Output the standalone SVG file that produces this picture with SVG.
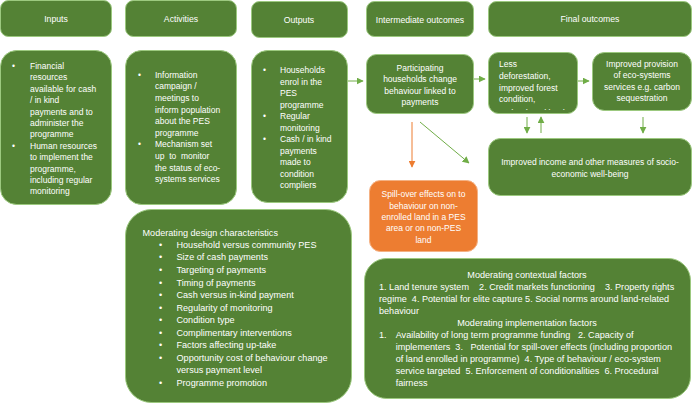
<svg xmlns="http://www.w3.org/2000/svg" width="692" height="405" viewBox="0 0 692 405">
<defs>
<marker id="ag" viewBox="0 0 10 10" refX="9" refY="5" markerWidth="7" markerHeight="7" markerUnits="userSpaceOnUse" orient="auto"><path d="M0,0 L10,5 L0,10 z" fill="#70AD47"/></marker>
<marker id="ao" viewBox="0 0 10 10" refX="9" refY="5" markerWidth="7" markerHeight="7" markerUnits="userSpaceOnUse" orient="auto"><path d="M0,0 L10,5 L0,10 z" fill="#ED7D31"/></marker>
<clipPath id="clipLess"><rect x="488" y="52" width="90" height="58"/></clipPath>
</defs>
<style>
.b{fill:#548235;stroke:#9cc97f;stroke-width:1}
.o{fill:#ED7D31;stroke:#f4b183;stroke-width:1}
text{font-family:"Liberation Sans",Arial,sans-serif;fill:#ffffff}
.h{font-size:8.7px;text-anchor:middle}
.t{font-size:8.5px}
.c{font-size:8.5px;text-anchor:middle}
.d{font-size:9.1px}
.dc{font-size:9.1px;text-anchor:middle}
.cn{stroke:#70AD47;stroke-width:1;fill:none;marker-end:url(#ag)}
</style>
<g id="h-inputs"><rect class="b" x="0.5" y="0.5" width="111" height="36" rx="8"/><text class="h" x="56" y="22">Inputs</text></g>
<g id="h-activities"><rect class="b" x="125.5" y="0.5" width="111" height="36" rx="8"/><text class="h" x="181" y="22">Activities</text></g>
<g id="h-outputs"><rect class="b" x="251.5" y="1.5" width="96" height="36" rx="8"/><text class="h" x="299" y="23">Outputs</text></g>
<g id="h-intermediate"><rect class="b" x="366.5" y="1.5" width="107" height="35" rx="8"/><text class="h" x="420" y="22.5">Intermediate outcomes</text></g>
<g id="h-final"><rect class="b" x="488.5" y="1.5" width="203" height="35" rx="8"/><text class="h" x="590" y="22">Final outcomes</text></g>

<g id="inputs"><rect class="b" x="0.5" y="50.5" width="111" height="154" rx="16"/>
<text class="t"><tspan x="12" y="69">•</tspan><tspan x="30" y="69">Financial</tspan><tspan x="30" y="80.4">resources</tspan><tspan x="30" y="91.8">available for cash</tspan><tspan x="30" y="103.2">/ in kind</tspan><tspan x="30" y="114.6">payments and to</tspan><tspan x="30" y="126">administer the</tspan><tspan x="30" y="137.4">programme</tspan><tspan x="12" y="148.8">•</tspan><tspan x="30" y="148.8">Human resources</tspan><tspan x="30" y="160.2">to implement the</tspan><tspan x="30" y="171.6">programme,</tspan><tspan x="30" y="183">including regular</tspan><tspan x="30" y="194.4">monitoring</tspan></text></g>

<g id="activities"><rect class="b" x="125.5" y="50.5" width="111" height="154" rx="16"/>
<text class="t"><tspan x="138" y="77.8">•</tspan><tspan x="155" y="77.8">Information</tspan><tspan x="155" y="89.4">campaign /</tspan><tspan x="155" y="101">meetings to</tspan><tspan x="155" y="112.6">inform population</tspan><tspan x="155" y="124.2">about the PES</tspan><tspan x="155" y="135.8">programme</tspan><tspan x="138" y="147.4">•</tspan><tspan x="155" y="147.4">Mechanism set</tspan><tspan x="155" y="159" xml:space="preserve">up  to  monitor</tspan><tspan x="155" y="170.6">the status of eco-</tspan><tspan x="155" y="182.2">systems services</tspan></text></g>

<g id="outputs"><rect class="b" x="251.5" y="50.5" width="96" height="152" rx="16"/>
<text class="t"><tspan x="263" y="73">•</tspan><tspan x="280" y="73">Households</tspan><tspan x="280" y="84.5">enrol in the</tspan><tspan x="280" y="96">PES</tspan><tspan x="280" y="107.5">programme</tspan><tspan x="263" y="119">•</tspan><tspan x="280" y="119">Regular</tspan><tspan x="280" y="130.5">monitoring</tspan><tspan x="263" y="142">•</tspan><tspan x="280" y="142">Cash / in kind</tspan><tspan x="280" y="153.5">payments</tspan><tspan x="280" y="165">made to</tspan><tspan x="280" y="176.5">condition</tspan><tspan x="280" y="188">compliers</tspan></text></g>

<g id="participating"><rect class="b" x="366.5" y="54.5" width="107" height="59" rx="10"/>
<text class="c"><tspan x="420" y="70.8">Participating</tspan><tspan x="420" y="82.3">households change</tspan><tspan x="420" y="93.8">behaviour linked to</tspan><tspan x="420" y="105">payments</tspan></text></g>

<g id="less-deforestation"><rect class="b" x="488.5" y="52.5" width="89" height="61" rx="10"/>
<text class="t" clip-path="url(#clipLess)"><tspan x="499" y="67.3">Less</tspan><tspan x="499" y="79">deforestation,</tspan><tspan x="499" y="90.5">improved forest</tspan><tspan x="499" y="101.7">condition,</tspan><tspan x="499" y="115.5">and reduced land-use change</tspan></text></g>

<g id="provision"><rect class="b" x="592.5" y="52.5" width="99" height="58" rx="12"/>
<text class="c"><tspan x="642" y="66.7">Improved provision</tspan><tspan x="642" y="78.3">of eco-systems</tspan><tspan x="642" y="90">services e.g. carbon</tspan><tspan x="642" y="101.3">sequestration</tspan></text></g>

<g id="income"><rect class="b" x="488.5" y="138.5" width="203" height="57" rx="12"/>
<text class="c"><tspan x="590" y="165.3">Improved income and other measures of socio-</tspan><tspan x="590" y="176.5">economic well-being</tspan></text></g>

<g id="spillover"><rect class="o" x="369.5" y="180.5" width="108" height="71" rx="11"/>
<text class="c"><tspan x="423.5" y="197.3">Spill-over effects on to</tspan><tspan x="423.5" y="208.5">behaviour on non-</tspan><tspan x="423.5" y="219.8">enrolled land in a PES</tspan><tspan x="423.5" y="231.3">area or on non-PES</tspan><tspan x="423.5" y="242.5">land</tspan></text></g>

<g id="design"><rect class="b" x="125.5" y="209.5" width="226" height="193" rx="26"/>
<text class="d"><tspan x="142.5" y="236">Moderating design characteristics</tspan>
<tspan x="159" y="247.6">•</tspan><tspan x="176.5" y="247.6">Household versus community PES</tspan>
<tspan x="159" y="260.3">•</tspan><tspan x="176.5" y="260.3">Size of cash payments</tspan>
<tspan x="159" y="273">•</tspan><tspan x="176.5" y="273">Targeting of payments</tspan>
<tspan x="159" y="285.6">•</tspan><tspan x="176.5" y="285.6">Timing of payments</tspan>
<tspan x="159" y="298.2">•</tspan><tspan x="176.5" y="298.2">Cash versus in-kind payment</tspan>
<tspan x="159" y="310.6">•</tspan><tspan x="176.5" y="310.6">Regularity of monitoring</tspan>
<tspan x="159" y="323.2">•</tspan><tspan x="176.5" y="323.2">Condition type</tspan>
<tspan x="159" y="335.9">•</tspan><tspan x="176.5" y="335.9">Complimentary interventions</tspan>
<tspan x="159" y="348.3">•</tspan><tspan x="176.5" y="348.3">Factors affecting up-take</tspan>
<tspan x="159" y="360.6">•</tspan><tspan x="176.5" y="360.6">Opportunity cost of behaviour change</tspan>
<tspan x="176.5" y="373.2">versus payment level</tspan>
<tspan x="159" y="385.9">•</tspan><tspan x="176.5" y="385.9">Programme promotion</tspan></text></g>

<g id="contextual"><rect class="b" x="364.5" y="258.5" width="326" height="140" rx="22"/>
<text class="dc" x="527" y="278.3">Moderating contextual factors</text>
<text class="d" xml:space="preserve"><tspan x="379" y="290.3">1. Land tenure system    2. Credit markets functioning    3. Property rights</tspan><tspan x="379" y="302">regime  4. Potential for elite capture 5. Social norms around land-related</tspan><tspan x="379" y="314">behaviour</tspan></text>
<text class="dc" x="527" y="326">Moderating implementation factors</text>
<text class="d" xml:space="preserve"><tspan x="379" y="338">1.</tspan><tspan x="395.7" y="338">Availability of long term programme funding   2. Capacity of</tspan><tspan x="395.7" y="350">implementers  3.   Potential for spill-over effects (including proportion</tspan><tspan x="395.7" y="362">of land enrolled in programme)  4. Type of behaviour / eco-system</tspan><tspan x="395.7" y="374">service targeted  5. Enforcement of conditionalities  6. Procedural</tspan><tspan x="395.7" y="386">fairness</tspan></text></g>

<g id="connectors">
<line class="cn" x1="348" y1="81" x2="363" y2="81"/>
<line class="cn" x1="474" y1="79" x2="485" y2="79"/>
<line class="cn" x1="578" y1="81" x2="589" y2="81"/>
<line class="cn" x1="527" y1="117" x2="527" y2="133"/>
<line class="cn" x1="541" y1="133" x2="541" y2="117"/>
<line class="cn" x1="643" y1="117" x2="643" y2="133"/>
<line class="cn" x1="420" y1="122" x2="469" y2="163"/>
<line x1="412" y1="122" x2="412" y2="167" stroke="#ED7D31" stroke-width="1" marker-end="url(#ao)"/>
</g>
</svg>
